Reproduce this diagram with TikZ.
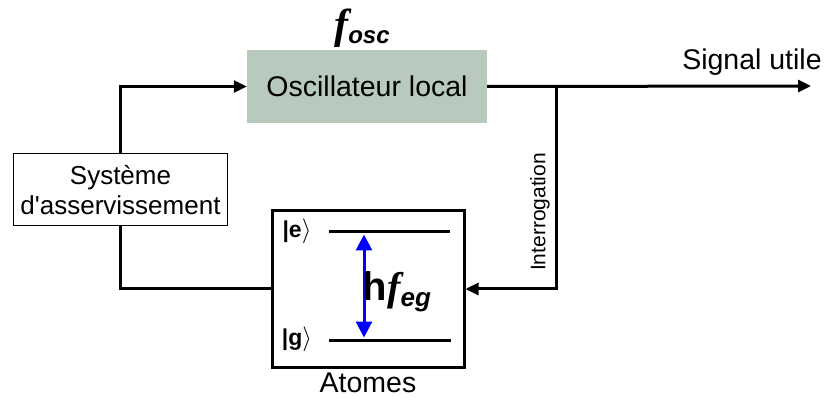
\documentclass[tikz,border=0pt]{standalone}
\usepackage{fontspec}
\setmainfont{Liberation Sans}
\newfontfamily\plainsans{Liberation Sans}
\newfontfamily\tnr{Liberation Serif}
\usetikzlibrary{arrows.meta,calc}
\definecolor{oscgreen}{RGB}{184,202,190}
\begin{document}
\begin{tikzpicture}[x=1pt,y=-1pt,
  conn/.style={line width=3pt,-{Triangle[length=13pt,width=12pt]}},
  plain/.style={line width=3pt},
  lvl/.style={line width=3pt},
  bigtxt/.style={font=\fontsize{28.5}{33}\selectfont},
  midtxt/.style={font=\plainsans\fontsize{26}{30}\selectfont},
  ket/.style={font=\fontsize{23}{26}\selectfont\bfseries},
  ]
\useasboundingbox (0,0) rectangle (825,398);
\node[fill=oscgreen, minimum width=240pt, minimum height=73pt, inner sep=0pt, bigtxt] (osc) at (367,86.5) {Oscillateur local};
\node[draw, line width=1pt, minimum width=214pt, minimum height=72pt, inner sep=0pt, align=center, midtxt] (sys) at (120.5,190) {Système\\d'asservissement};
\node[draw, line width=3pt, minimum width=192pt, minimum height=157pt, inner sep=0pt] (atom) at (368,289) {};
\node[bigtxt, inner sep=0pt] (atlab) at (368,383) {Atomes};
\node (fosc) at (362,28) {{\fontsize{42}{42}\selectfont\tnr\bfseries\itshape f}\raisebox{-5pt}{\fontsize{24}{24}\selectfont\bfseries\itshape osc}};
\node[bigtxt] (sig) at (752,62) {Signal utile};
\coordinate (outend) at (811,86);
\coordinate (branch) at (556,86);
\draw[conn] (sys.north) |- (osc.west);
\draw[conn] (osc.east) -- (outend);
\draw[conn] (branch) |- (atom.east);
\draw[plain] (sys.south) |- (atom.west);
\node[rotate=90, font=\fontsize{21}{24}\selectfont] (interr) at (540,212) {Interrogation};
% energy levels
\coordinate (e1) at (329,232);
\coordinate (e2) at (450,232);
\coordinate (g1) at (329,340);
\coordinate (g2) at (451,340);
\draw[lvl] (e1) -- (e2);
\draw[lvl] (g1) -- (g2);
\node[ket] (ket-e) at (297,231) {|e$\rangle$};
\node[ket] (ket-g) at (297,339) {|g$\rangle$};
\coordinate (ba) at (364,234.5);
\coordinate (bb) at (364,337.5);
\draw[blue, line width=3pt, {Triangle[length=16pt,width=16pt]}-{Triangle[length=16pt,width=16pt]}] (ba) -- (bb);
\node (hf) at (397,292) {{\fontsize{40}{40}\selectfont\bfseries h}{\fontsize{40}{40}\selectfont\tnr\bfseries\itshape f}\raisebox{-6pt}{\fontsize{26}{26}\selectfont\bfseries\itshape eg}};
\end{tikzpicture}
\end{document}
